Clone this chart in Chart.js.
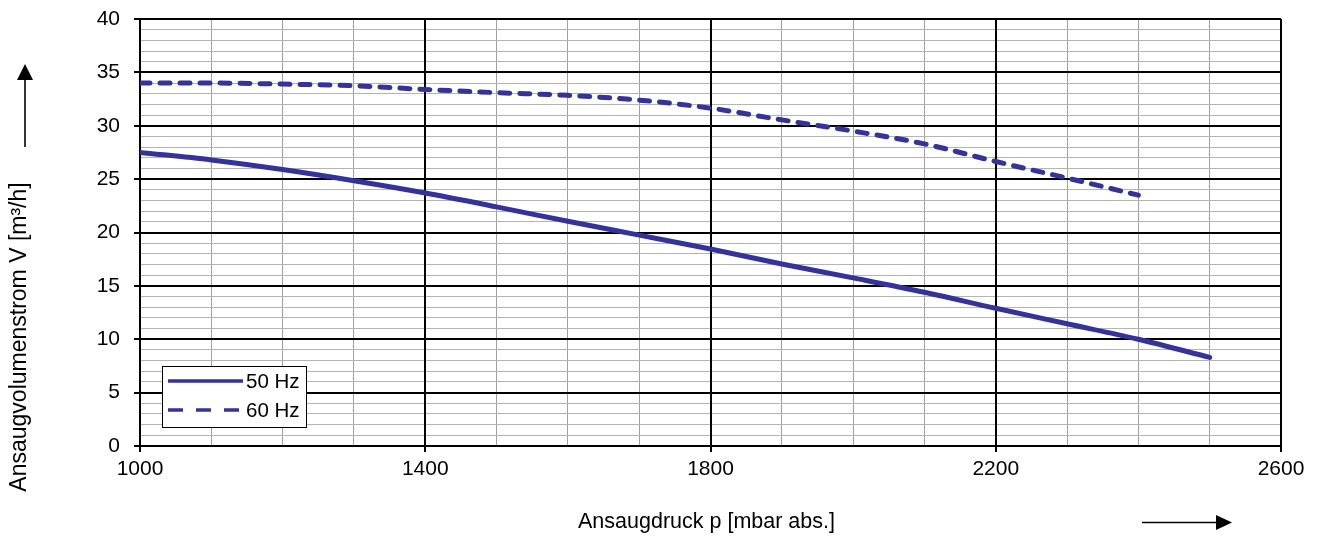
<!DOCTYPE html>
<html>
<head>
<meta charset="utf-8">
<script src="https://cdn.jsdelivr.net/npm/chart.js@4.4.1/dist/chart.umd.min.js"></script>
<style>
  html, body { margin: 0; padding: 0; background: #fff; }
</style>
</head>
<body>
<canvas id="pump-chart" width="1320" height="537"></canvas>
<script>
// Ansaugdruck p [mbar abs.]
const pressure = [1000, 1100, 1200, 1300, 1400, 1500, 1600, 1700, 1800, 1900, 2000, 2100, 2200, 2300, 2400, 2500];
// Ansaugvolumenstrom [m3/h]
const flow50 = [27.5, 26.8, 25.9, 24.85, 23.7, 22.4, 21.05, 19.75, 18.45, 17.05, 15.75, 14.4, 12.9, 11.45, 10.0, 8.3];
const flow60 = [34.0, 34.0, 33.9, 33.75, 33.4, 33.1, 32.85, 32.4, 31.65, 30.55, 29.5, 28.3, 26.65, 25.1, 23.5, null];

const seriesNames = ['50 Hz', '60 Hz'];
const xTitle = 'Ansaugdruck p [mbar abs.]';
const yTitle = 'Ansaugvolumenstrom V [m³/h]';

const lineColor = '#333399';
const fontFamily = '"Liberation Sans", Arial, sans-serif';

const isMajorX = v => (v - 1000) % 400 === 0;
const isMajorY = v => v % 5 === 0;

function toPoints(values) {
  return pressure.map((p, i) => ({ x: p, y: values[i] })).filter(pt => pt.y !== null);
}

// black major grid lines redrawn over the grey minor ones
const majorGridPlugin = {
  id: 'majorGrid',
  beforeDatasetsDraw(chart) {
    const ctx = chart.ctx;
    const area = chart.chartArea;
    const xs = chart.scales.x, ys = chart.scales.y;
    ctx.save();
    ctx.strokeStyle = '#000';
    ctx.lineWidth = 2;
    ctx.beginPath();
    xs.ticks.forEach(t => {
      if (!isMajorX(t.value)) return;
      const px = Math.round(xs.getPixelForValue(t.value));
      ctx.moveTo(px, area.top);
      ctx.lineTo(px, area.bottom);
    });
    ys.ticks.forEach(t => {
      if (!isMajorY(t.value)) return;
      const py = Math.round(ys.getPixelForValue(t.value));
      ctx.moveTo(area.left, py);
      ctx.lineTo(area.right, py);
    });
    ctx.stroke();
    ctx.restore();
  }
};

// titles, arrows and the boxed legend inside the plot
const decorPlugin = {
  id: 'decor',
  afterDraw(chart) {
    const ctx = chart.ctx;
    const area = chart.chartArea;
    ctx.save();
    ctx.fillStyle = '#000';
    ctx.strokeStyle = '#000';

    // axis titles
    ctx.font = '21.5px ' + fontFamily;
    ctx.textAlign = 'center';
    ctx.textBaseline = 'middle';
    ctx.fillText(xTitle, (area.left + area.right) / 2 - 4, 522);

    ctx.save();
    ctx.translate(20, 337);
    ctx.rotate(-Math.PI / 2);
    ctx.font = '23px ' + fontFamily;
    ctx.fillText(yTitle, 0, 0);
    ctx.restore();

    // up arrow
    ctx.lineWidth = 1.6;
    ctx.beginPath();
    ctx.moveTo(25, 147);
    ctx.lineTo(25, 78);
    ctx.stroke();
    ctx.beginPath();
    ctx.moveTo(25, 64);
    ctx.lineTo(17, 80);
    ctx.lineTo(33, 80);
    ctx.closePath();
    ctx.fill();

    // right arrow
    ctx.beginPath();
    ctx.moveTo(1142, 522.5);
    ctx.lineTo(1218, 522.5);
    ctx.stroke();
    ctx.beginPath();
    ctx.moveTo(1232, 522.5);
    ctx.lineTo(1216, 515);
    ctx.lineTo(1216, 530);
    ctx.closePath();
    ctx.fill();

    // legend box
    const bx = area.left + 22, by = area.bottom - 80, bw = 144, bh = 61;
    ctx.fillStyle = '#fff';
    ctx.fillRect(bx, by, bw, bh);
    ctx.lineWidth = 1;
    ctx.strokeRect(bx + 0.5, by + 0.5, bw, bh);

    chart.data.datasets.forEach((ds, i) => {
      const ly = by + 15 + i * 29;
      ctx.strokeStyle = ds.borderColor;
      ctx.lineWidth = 3.5;
      ctx.lineCap = 'butt';
      ctx.setLineDash(ds.borderDash && ds.borderDash.length ? [15, 13] : []);
      ctx.beginPath();
      ctx.moveTo(bx + 6, ly);
      ctx.lineTo(bx + 81, ly);
      ctx.stroke();
      ctx.setLineDash([]);
      ctx.fillStyle = '#000';
      ctx.font = '20.5px ' + fontFamily;
      ctx.textAlign = 'left';
      ctx.textBaseline = 'middle';
      ctx.fillText(ds.label, bx + 84, ly + 1);
    });
    ctx.restore();
  }
};

function initializeChart() {
  const ctx = document.getElementById('pump-chart');

  const data = {
    datasets: [{
      label: seriesNames[0],
      data: toPoints(flow50),
      borderColor: lineColor,
      borderWidth: 5,
      borderCapStyle: 'round',
      pointRadius: 0,
      fill: false,
      cubicInterpolationMode: 'monotone'
    }, {
      label: seriesNames[1],
      data: toPoints(flow60),
      borderColor: lineColor,
      borderWidth: 5,
      borderDash: [10, 10],
      borderCapStyle: 'round',
      pointRadius: 0,
      fill: false,
      cubicInterpolationMode: 'monotone'
    }]
  };

  const config = {
    type: 'line',
    data: data,
    options: {
      responsive: false,
      devicePixelRatio: 1,
      animation: false,
      layout: {
        padding: { top: 19, right: 39, left: 0, bottom: 0 }
      },
      plugins: {
        legend: { display: false },
        tooltip: { enabled: false },
        title: { display: false }
      },
      scales: {
        x: {
          type: 'linear',
          min: 1000,
          max: 2600,
          afterFit: s => { s.height = 91; s.paddingRight = 0; s.paddingLeft = 0; },
          border: { display: true, color: '#000', width: 2 },
          grid: {
            color: c => (c.tick && isMajorX(c.tick.value)) ? '#000' : '#a0a0a0',
            lineWidth: c => (c.tick && isMajorX(c.tick.value)) ? 2 : 1,
            tickColor: c => (c.tick && isMajorX(c.tick.value)) ? '#000' : 'rgba(0,0,0,0)',
            tickLength: 6
          },
          ticks: {
            stepSize: 100,
            autoSkip: false,
            maxRotation: 0,
            padding: 5,
            color: '#000',
            font: { family: fontFamily, size: 21 },
            callback: v => (isMajorX(v) ? String(v) : '')
          }
        },
        y: {
          min: 0,
          max: 40,
          afterFit: s => { s.width = 140; s.paddingTop = 0; s.paddingBottom = 0; },
          border: { display: true, color: '#000', width: 2 },
          grid: {
            color: c => (c.tick && isMajorY(c.tick.value)) ? '#000' : '#b4b4b4',
            lineWidth: c => (c.tick && isMajorY(c.tick.value)) ? 2 : 1,
            tickColor: c => (c.tick && isMajorY(c.tick.value)) ? '#000' : 'rgba(0,0,0,0)',
            tickLength: 6
          },
          ticks: {
            stepSize: 1,
            autoSkip: false,
            padding: 14,
            color: '#000',
            font: { family: fontFamily, size: 21 },
            callback: v => (isMajorY(v) ? String(v) : '')
          }
        }
      }
    },
    plugins: [majorGridPlugin, decorPlugin]
  };

  new Chart(ctx, config);
}

document.addEventListener('DOMContentLoaded', initializeChart);
</script>
</body>
</html>
